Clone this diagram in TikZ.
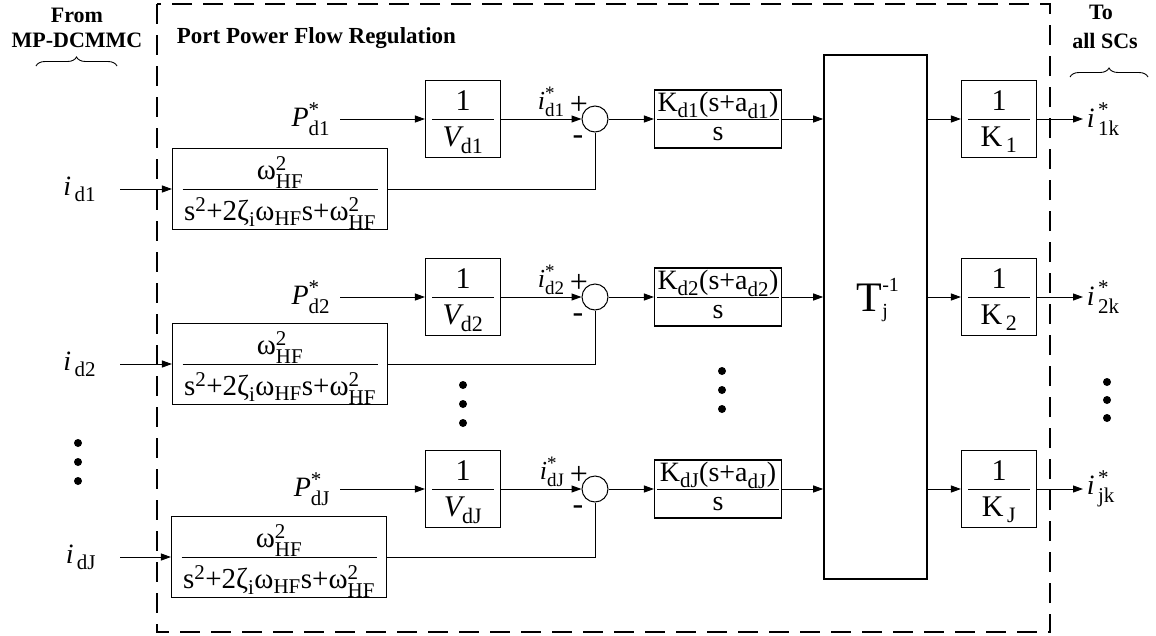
\documentclass[tikz,border=0pt]{standalone}
\usepackage{amsmath}
\usepackage{fontspec}
\setmainfont{Liberation Serif}
\usepackage{tikz}
\usetikzlibrary{arrows.meta}
\usetikzlibrary{decorations.pathreplacing}

\DeclareMathSizes{26}{26}{19}{14}
\DeclareMathSizes{28}{28}{21}{15}
\DeclareMathSizes{29}{29}{21}{15}
\DeclareMathSizes{30}{30}{22}{16}
\DeclareMathSizes{42}{42}{20}{16}
% width, strut height, strut depth, numerator, denominator
\newcommand{\frc}[5]{\vbox{\hbox to #1{\hss\rule[-#3]{0pt}{#2}#4\hss}\hrule height 0.8pt\hbox to #1{\hss\rule[-#3]{0pt}{#2}#5\hss}}}

\tikzset{
  blk/.style={draw, line width=1.1pt, inner sep=0pt, minimum width=75pt, minimum height=77pt, font=\fontsize{30}{34}\selectfont},
  ctl/.style={draw, line width=1.1pt, inner sep=0pt, minimum width=127pt, minimum height=58pt, font=\fontsize{28}{32}\selectfont},
  flt/.style={draw, line width=1.1pt, inner sep=0pt, minimum width=215pt, minimum height=74pt, font=\fontsize{29}{32}\selectfont},
  tblk/.style={draw, line width=1.6pt, minimum width=103pt, minimum height=524pt},
  sumc/.style={draw, circle, line width=1pt, inner sep=0pt, minimum size=26pt},
  sgn/.style={inner sep=0pt, font=\fontsize{32}{32}\selectfont},
  sig/.style={font=\fontsize{28}{32}\selectfont},
  lb/.style={font=\fontsize{22}{25}\selectfont\bfseries},
  brc/.style={decorate, decoration={brace, amplitude=9pt}, line width=0.9pt}
}

\begin{document}
\begin{tikzpicture}[x=1pt, y=-1pt, line width=1pt, >={Triangle[length=10pt, width=7pt]},
  every node/.style={font=\fontsize{26}{30}\selectfont}]
\useasboundingbox (0,0) rectangle (1156,635);

\draw[line width=1.2pt, dash pattern=on 20pt off 11pt] (157,4) rectangle (1050,632);
\node[lb, anchor=base west, font=\fontsize{23}{26}\selectfont\bfseries] (ttl) at (173,43) {Port Power Flow Regulation};
\node[lb, anchor=base] (frm) at (77,22) {From};
\node[lb, anchor=base] (mpd) at (77,47) {MP-DCMMC};
\draw[brc] (36,66) -- (117,66);
\node[lb, anchor=base] (to) at (1101,19) {To};
\node[lb, anchor=base] (asc) at (1105,48) {all SCs};
\draw[brc] (1070,77) -- (1148,77);

\node[tblk] (tm) at (875.5,317) {};
\node[font=\fontsize{42}{46}\selectfont] (tl) at (878,300) {$\text{T}^{\text{-1}}_{\text{j}}$};

% row 1
\node[sig, anchor=east] (pd1) at (334,119) {$\textit{P}^{\text{*}}_{\text{d1}}$};
\node[blk] (inv1) at (463,119) {\frc{62pt}{35pt}{8pt}{1}{$\textit{V}_{\text{d1}}$}};
\node[sumc] (sm1) at (595,119) {};
\node[anchor=south east, inner sep=1pt] (ir1) at (566,118) {$\textit{i}^{\text{*}}_{\text{d1}}$};
\node[sgn] (pl1) at (579,105) {+};
\node[sgn] (mn1) at (578,140) {-};
\node[ctl] (kc1) at (718,119) {\frc{122pt}{28pt}{7pt}{$\text{K}_{\text{d1}}\text{(s+a}_{\text{d1}}\text{)}$}{s}};
\node[blk] (ik1) at (999,119) {\frc{62pt}{35pt}{8pt}{1}{$\text{K}_{\,\text{1}}$}};
\node[sig, anchor=west] (ok1) at (1083,119) {$\textit{i}^{\,\text{*}}_{\,\text{1k}}$};
\node[flt] (fl1) at (280,189) {\frc{195pt}{36pt}{5pt}{$\text{ω}^{\text{2}}_{\text{HF}}$}{$\text{s}^{\text{2}}\text{+2ζ}_{\text{i}}\text{ω}_{\text{HF}}\text{s+ω}^{\text{2}}_{\text{HF}}$}};
\node[sig, anchor=east] (id1) at (100,189) {$\textit{i}_{\,\text{d1}}$};

\draw[->, shorten <=6pt] (pd1) -- (inv1);
\draw[->] (inv1) -- (sm1);
\draw[->] (sm1) -- (kc1);
\draw[->] (kc1) -- (kc1 -| tm.west);
\draw[->] (tm.east |- ik1) -- (ik1);
\draw[->] (ik1) -- (ok1);
\draw[->, shorten <=20pt] (id1) -- (fl1);
\draw (fl1) -| (sm1);

% row 2
\node[sig, anchor=east] (pd2) at (334,297) {$\textit{P}^{\text{*}}_{\text{d2}}$};
\node[blk] (inv2) at (463,297) {\frc{62pt}{35pt}{8pt}{1}{$\textit{V}_{\text{d2}}$}};
\node[sumc] (sm2) at (595,297) {};
\node[anchor=south east, inner sep=1pt] (ir2) at (566,296) {$\textit{i}^{\text{*}}_{\text{d2}}$};
\node[sgn] (pl2) at (579,283) {+};
\node[sgn] (mn2) at (578,318) {-};
\node[ctl] (kc2) at (718,297) {\frc{122pt}{28pt}{7pt}{$\text{K}_{\text{d2}}\text{(s+a}_{\text{d2}}\text{)}$}{s}};
\node[blk] (ik2) at (999,297) {\frc{62pt}{35pt}{8pt}{1}{$\text{K}_{\,\text{2}}$}};
\node[sig, anchor=west] (ok2) at (1083,297) {$\textit{i}^{\,\text{*}}_{\,\text{2k}}$};
\node[flt] (fl2) at (280,364) {\frc{195pt}{36pt}{5pt}{$\text{ω}^{\text{2}}_{\text{HF}}$}{$\text{s}^{\text{2}}\text{+2ζ}_{\text{i}}\text{ω}_{\text{HF}}\text{s+ω}^{\text{2}}_{\text{HF}}$}};
\node[sig, anchor=east] (id2) at (100,364) {$\textit{i}_{\,\text{d2}}$};

\draw[->, shorten <=6pt] (pd2) -- (inv2);
\draw[->] (inv2) -- (sm2);
\draw[->] (sm2) -- (kc2);
\draw[->] (kc2) -- (kc2 -| tm.west);
\draw[->] (tm.east |- ik2) -- (ik2);
\draw[->] (ik2) -- (ok2);
\draw[->, shorten <=20pt] (id2) -- (fl2);
\draw (fl2) -| (sm2);

% row J
\node[sig, anchor=east] (pd3) at (334,489) {$\textit{P}^{\text{*}}_{\text{dJ}}$};
\node[blk] (inv3) at (463,489) {\frc{62pt}{35pt}{8pt}{1}{$\textit{V}_{\text{dJ}}$}};
\node[sumc] (sm3) at (595,489) {};
\node[anchor=south east, inner sep=1pt] (ir3) at (566,488) {$\textit{i}^{\text{*}}_{\text{dJ}}$};
\node[sgn] (pl3) at (579,475) {+};
\node[sgn] (mn3) at (578,510) {-};
\node[ctl] (kc3) at (718,489) {\frc{122pt}{28pt}{7pt}{$\text{K}_{\text{dJ}}\text{(s+a}_{\text{dJ}}\text{)}$}{s}};
\node[blk] (ik3) at (999,489) {\frc{62pt}{35pt}{8pt}{1}{$\text{K}_{\,\text{J}}$}};
\node[sig, anchor=west] (ok3) at (1083,489) {$\textit{i}^{\,\text{*}}_{\,\text{jk}}$};
\node[flt] (fl3) at (279,557) {\frc{195pt}{36pt}{5pt}{$\text{ω}^{\text{2}}_{\text{HF}}$}{$\text{s}^{\text{2}}\text{+2ζ}_{\text{i}}\text{ω}_{\text{HF}}\text{s+ω}^{\text{2}}_{\text{HF}}$}};
\node[sig, anchor=east] (id3) at (100,557) {$\textit{i}_{\,\text{dJ}}$};

\draw[->, shorten <=6pt] (pd3) -- (inv3);
\draw[->] (inv3) -- (sm3);
\draw[->] (sm3) -- (kc3);
\draw[->] (kc3) -- (kc3 -| tm.west);
\draw[->] (tm.east |- ik3) -- (ik3);
\draw[->] (ik3) -- (ok3);
\draw[->, shorten <=20pt] (id3) -- (fl3);
\draw (fl3) -| (sm3);

\foreach \x/\y in {78/443, 78/462, 78/481, 463/385, 463/404, 463/423,
                   722/371, 722/390, 722/409, 1107/382, 1107/400, 1107/418}
  \fill (\x,\y) circle (4pt);
\end{tikzpicture}
\end{document}
